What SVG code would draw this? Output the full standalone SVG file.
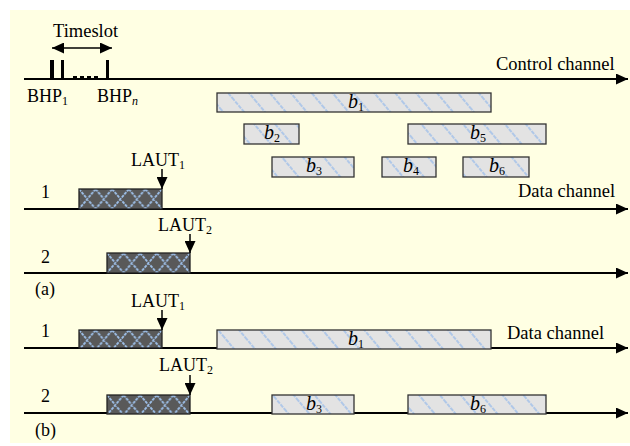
<svg xmlns="http://www.w3.org/2000/svg" width="630" height="446" viewBox="0 0 630 446">
  <defs>
    <style>
      text { font-family: "Liberation Serif", "Times New Roman", serif; fill: #000; }
      .lbl { font-size: 18px; }
      .big { font-size: 18.5px; }
      .sub { font-size: 12px; }
      .b { font-size: 20px; font-style: italic; }
      .axis { stroke: #000; stroke-width: 2; fill: none; }
      .burst { fill: url(#diag); stroke: #333; stroke-width: 1.3; }
      .setup { fill: url(#cross); stroke: #222; stroke-width: 1.3; }
      .ptr { stroke: #000; stroke-width: 1.5; }
    </style>
    <!-- light data-burst hatch -->
    <pattern id="diag" patternUnits="userSpaceOnUse" width="16" height="16" patternTransform="rotate(-40)">
      <rect width="16" height="16" fill="#e3e3e3"/>
      <line x1="3" y1="0" x2="3" y2="16" stroke="#9fc0ea" stroke-width="1.5" stroke-dasharray="4 1"/>
    </pattern>
    <!-- dark offset-time crosshatch -->
    <pattern id="cross" patternUnits="objectBoundingBox" x="0" y="0" width="0.2" height="1">
      <rect width="16.6" height="20" fill="#595959"/>
      <path d="M0,0 L16.6,20 M16.6,0 L0,20" stroke="#9dbfe8" stroke-width="1.8" stroke-dasharray="3 1"/>
    </pattern>
    <marker id="arr" viewBox="0 0 12 11" refX="12" refY="5.5" markerWidth="12" markerHeight="11" markerUnits="userSpaceOnUse" orient="auto-start-reverse">
      <path d="M0,0 L12,5.5 L0,11 z" fill="#000"/>
    </marker>
  </defs>

  <rect x="10" y="10" width="620" height="433" fill="#ffffe3"/>

  <!-- time axes -->
  <g id="connectors">
    <line class="axis" x1="24" y1="79" x2="628" y2="79" marker-end="url(#arr)" stroke-width="1.6"/>
    <line class="axis" x1="24" y1="209" x2="628" y2="209" marker-end="url(#arr)"/>
    <line class="axis" x1="24" y1="273" x2="628" y2="273" marker-end="url(#arr)"/>
    <line class="axis" x1="24" y1="348" x2="628" y2="348" marker-end="url(#arr)"/>
    <line class="axis" x1="24" y1="413" x2="628" y2="413" marker-end="url(#arr)"/>
    <!-- timeslot span -->
    <line class="ptr" x1="52" y1="48" x2="112" y2="48" marker-start="url(#arr)" marker-end="url(#arr)"/>
  </g>

  <!-- control channel: burst header packets -->
  <g id="control">
    <text class="big" x="53" y="37">Timeslot</text>
    <rect x="50" y="60" width="4" height="19" fill="#000"/>
    <rect x="61" y="60" width="3" height="19" fill="#000"/>
    <rect x="106" y="60" width="3" height="19" fill="#000"/>
    <g fill="#000">
      <rect x="73" y="76" width="4" height="3"/>
      <rect x="80" y="76" width="4" height="3"/>
      <rect x="87" y="76" width="4" height="3"/>
      <rect x="94" y="76" width="4" height="3"/>
    </g>
    <text class="lbl" x="27" y="102">BHP<tspan class="sub" dy="3">1</tspan></text>
    <text class="lbl" x="97" y="102">BHP<tspan class="sub" dy="3" font-style="italic">n</tspan></text>
    <text class="big" x="496" y="70">Control channel</text>
  </g>

  <!-- requested bursts -->
  <g id="b1"><rect class="burst" x="217" y="93" width="274" height="19"/><text class="b" x="348" y="108">b<tspan class="sub" dy="3" font-style="normal">1</tspan></text></g>
  <g id="b2"><rect class="burst" x="244" y="124" width="55" height="20"/><text class="b" x="264" y="139">b<tspan class="sub" dy="3" font-style="normal">2</tspan></text></g>
  <g id="b5"><rect class="burst" x="408" y="124" width="138" height="20"/><text class="b" x="470" y="139">b<tspan class="sub" dy="3" font-style="normal">5</tspan></text></g>
  <g id="b3"><rect class="burst" x="272" y="157" width="82" height="20"/><text class="b" x="306" y="172">b<tspan class="sub" dy="3" font-style="normal">3</tspan></text></g>
  <g id="b4"><rect class="burst" x="382" y="157" width="54" height="20"/><text class="b" x="403" y="172">b<tspan class="sub" dy="3" font-style="normal">4</tspan></text></g>
  <g id="b6"><rect class="burst" x="463" y="157" width="66" height="20"/><text class="b" x="489" y="172">b<tspan class="sub" dy="3" font-style="normal">6</tspan></text></g>

  <!-- (a) data channels -->
  <g id="a-ch1">
    <text class="lbl" x="41" y="198">1</text>
    <rect class="setup" x="79" y="189" width="83" height="20"/>
    <text class="lbl" x="131" y="166">LAUT<tspan class="sub" dy="3">1</tspan></text>
    <line class="ptr" x1="162" y1="169" x2="162" y2="189" marker-end="url(#arr)"/>
    <text class="big" x="518" y="197">Data channel</text>
  </g>
  <g id="a-ch2">
    <text class="lbl" x="41" y="263">2</text>
    <rect class="setup" x="107" y="253" width="83" height="20"/>
    <text class="lbl" x="158" y="231">LAUT<tspan class="sub" dy="3">2</tspan></text>
    <line class="ptr" x1="190" y1="234" x2="190" y2="253" marker-end="url(#arr)"/>
    <text class="lbl" x="35" y="295">(a)</text>
  </g>

  <!-- (b) data channels after scheduling -->
  <g id="b-ch1">
    <text class="lbl" x="41" y="337">1</text>
    <rect class="setup" x="79" y="330" width="83" height="18"/>
    <text class="lbl" x="131" y="307">LAUT<tspan class="sub" dy="3">1</tspan></text>
    <line class="ptr" x1="162" y1="310" x2="162" y2="330" marker-end="url(#arr)"/>
    <rect class="burst" x="217" y="330" width="274" height="19"/>
    <text class="b" x="348" y="345">b<tspan class="sub" dy="3" font-style="normal">1</tspan></text>
    <text class="big" x="507" y="339">Data channel</text>
  </g>
  <g id="b-ch2">
    <text class="lbl" x="41" y="402">2</text>
    <rect class="setup" x="107" y="395" width="83" height="19"/>
    <text class="lbl" x="159" y="371">LAUT<tspan class="sub" dy="3">2</tspan></text>
    <line class="ptr" x1="190" y1="375" x2="190" y2="395" marker-end="url(#arr)"/>
    <rect class="burst" x="272" y="395" width="82" height="19"/>
    <text class="b" x="306" y="410">b<tspan class="sub" dy="3" font-style="normal">3</tspan></text>
    <rect class="burst" x="408" y="395" width="138" height="19"/>
    <text class="b" x="470" y="410">b<tspan class="sub" dy="3" font-style="normal">6</tspan></text>
    <text class="lbl" x="35" y="436">(b)</text>
  </g>
</svg>
